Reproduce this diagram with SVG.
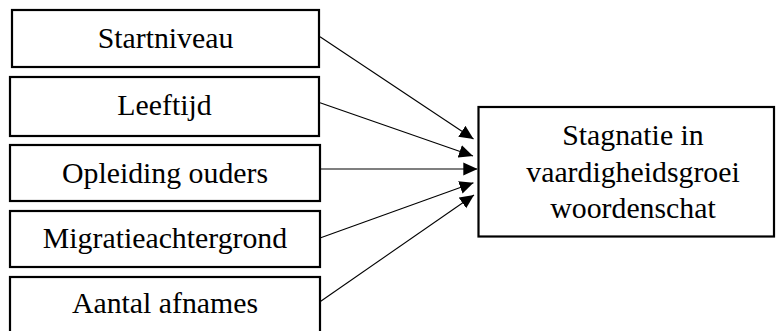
<svg xmlns="http://www.w3.org/2000/svg" width="776" height="331" viewBox="0 0 776 331">
<style>
.box{fill:#fff;stroke:#000;stroke-width:2.2}
.lbl{font-family:'Liberation Serif','Times New Roman','DejaVu Serif',serif;font-size:29.8px;fill:#000;text-anchor:middle}
.con{stroke:#000;stroke-width:1.1;fill:none;marker-end:url(#ah)}
</style>
<defs>
<marker id="ah" markerUnits="userSpaceOnUse" markerWidth="14" markerHeight="14" viewBox="0 0 14 14" refX="14" refY="7" orient="auto">
<path d="M0,0.5 L14,7 L0,13.5 Z" fill="#000"/>
</marker>
</defs>
<rect width="776" height="331" fill="#fff"/>
<g id="n1"><rect class="box" x="12" y="10" width="307" height="57"/><text class="lbl" font-family="Liberation Serif, serif" x="165.5" y="48.3">Startniveau</text></g>
<g id="n2"><rect class="box" x="10" y="77" width="309" height="59"/><text class="lbl" x="164.5" y="115">Leeftijd</text></g>
<g id="n3"><rect class="box" x="10" y="145" width="310" height="56"/><text class="lbl" x="165" y="182.7">Opleiding ouders</text></g>
<g id="n4"><rect class="box" x="10" y="211" width="310" height="56"/><text class="lbl" x="165" y="248">Migratieachtergrond</text></g>
<g id="n5"><rect class="box" x="10" y="277" width="310" height="70"/><text class="lbl" x="165" y="313">Aantal afnames</text></g>
<g id="target"><rect class="box" x="478.5" y="107" width="295.5" height="129.5"/>
<text class="lbl" x="633" y="145">Stagnatie in</text>
<text class="lbl" x="633" y="181.7">vaardigheidsgroei</text>
<text class="lbl" x="633" y="218.3">woordenschat</text></g>
<g id="connectors">
<line class="con" x1="320" y1="36.7" x2="473.5" y2="139"/>
<line class="con" x1="320" y1="102.7" x2="473" y2="156"/>
<line class="con" x1="320" y1="169" x2="477.3" y2="169"/>
<line class="con" x1="320" y1="238" x2="473.5" y2="182.7"/>
<line class="con" x1="320" y1="301.7" x2="474" y2="195"/>
</g>
</svg>
